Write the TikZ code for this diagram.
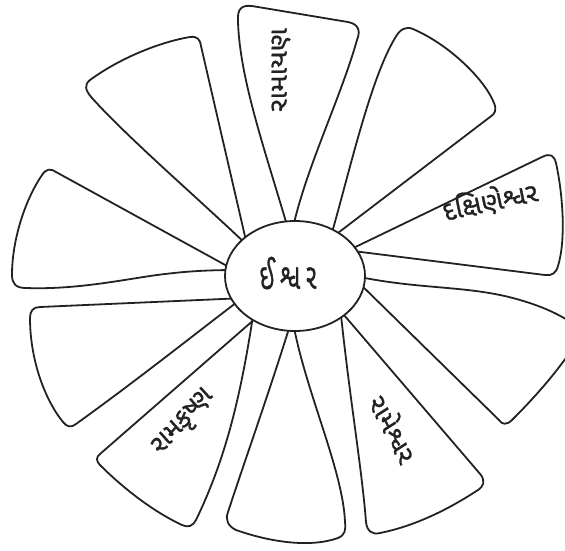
\documentclass[tikz,border=0pt]{standalone}
\usepackage{fontspec}
\usetikzlibrary{shapes.geometric}
\newfontfamily\guj[Script=Gujarati,FakeBold=1]{Noto Sans Gujarati UI}
\definecolor{ink}{HTML}{222222}
\tikzset{
  petal/.style={draw=ink, line width=1.8pt, fill=white, line join=round},
  hub/.style={ellipse, draw=ink, line width=1.8pt, fill=white, minimum width=140pt, minimum height=110pt, inner sep=0pt},
  lbl/.style={text=ink, font=\guj\fontsize{28}{30}\selectfont, inner sep=0pt, transform shape, xscale=0.9}
}
\begin{document}
\begin{tikzpicture}[x=1pt,y=-1pt]
\useasboundingbox (0,0) rectangle (565,550);
\clip (0,0) rectangle (565,550);
% petal 1 (top)
\draw[petal] (289,232) .. controls (265,150) and (240,80) .. (238,22) .. controls (237,8) and (242,5) .. (252,6) -- (348,22) .. controls (358,24) and (361,30) .. (357,40) .. controls (340,100) and (305,170) .. (292,232) -- cycle;
% petal 2
\draw[petal] (331,236) .. controls (350,170) and (370,80) .. (395,38) .. controls (400,29) and (406,26) .. (413,29) .. controls (450,45) and (485,80) .. (494,103) .. controls (497,110) and (495,114) .. (490,117) -- (334,236) -- cycle;
% petal 3
\draw[petal] (345,252) -- (542,157) .. controls (550,153) and (554,155) .. (556,163) .. controls (563,195) and (566,240) .. (558,266) .. controls (556,273) and (552,276) .. (545,275) -- (345,250) -- cycle;
% petal 4
\draw[petal] (355,276) .. controls (420,290) and (470,285) .. (520,300) .. controls (548,308) and (565,318) .. (575,325) -- (575,345) .. controls (555,375) and (532,400) .. (512,420) .. controls (507,425) and (502,425) .. (499,420) -- (355,279) -- cycle;
% petal 5
\draw[petal] (341,315) .. controls (350,400) and (362,470) .. (366,522) .. controls (367,531) and (372,535) .. (380,533) .. controls (420,525) and (455,505) .. (478,490) .. controls (484,486) and (485,481) .. (481,475) -- (344,315) -- cycle;
% petal 6 (bottom)
\draw[petal] (291,322) .. controls (270,390) and (245,460) .. (228,512) .. controls (225,520) and (228,526) .. (236,530) .. controls (270,542) and (310,548) .. (338,538) .. controls (345,535) and (346,530) .. (345,522) .. controls (343,470) and (305,390) .. (293,322) -- cycle;
% petal 7
\draw[petal] (253,316) .. controls (240,400) and (225,460) .. (196,520) .. controls (193,526) and (188,528) .. (182,525) .. controls (150,510) and (120,485) .. (100,465) .. controls (96,461) and (96,457) .. (100,454) -- (256,318) -- cycle;
% petal 8
\draw[petal] (245,298) -- (40,307) .. controls (33,307) and (30,311) .. (30,318) .. controls (30,360) and (45,400) .. (63,422) .. controls (67,427) and (71,428) .. (76,424) .. controls (140,378) and (200,330) .. (245,296) -- cycle;
% petal 9
\draw[petal] (238,272) -- (56,172) .. controls (50,168) and (46,169) .. (42,175) .. controls (25,200) and (12,240) .. (12,275) .. controls (12,284) and (16,288) .. (26,288) .. controls (80,290) and (130,278) .. (165,274) .. controls (190,271) and (210,270) .. (238,270) -- cycle;
% petal 10
\draw[petal] (248,246) .. controls (200,200) and (130,140) .. (92,98) .. controls (85,90) and (84,85) .. (90,80) .. controls (120,58) and (160,42) .. (190,37) .. controls (197,36) and (200,39) .. (201,46) -- (247,245) -- cycle;
% hub
\node[hub] (hub) at (295,276) {};
\node[lbl, font=\guj\fontsize{36}{40}\selectfont, xscale=0.72] (god) at (288,273) {ઈ\hspace{9pt}શ્વ\hspace{9pt}ર};
\node[lbl, rotate=90] (t1) at (281,70) {રામાયણ};
\node[lbl, font=\guj\fontsize{27}{30}\selectfont, xscale=1.11, rotate=12] (t3) at (490,201) {દક્ષિણેશ્વર};
\node[lbl, rotate=-60] (t5) at (394,428) {રામેશ્વર};
\node[lbl, rotate=45] (t7) at (184,423) {રામકૃષ્ણ};
\end{tikzpicture}
\end{document}
